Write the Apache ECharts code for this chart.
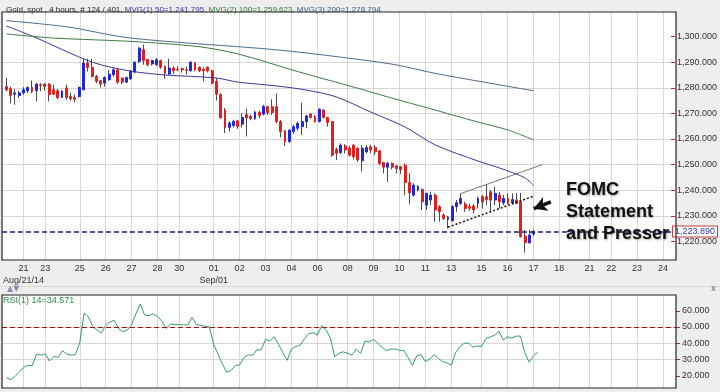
<!DOCTYPE html>
<html><head><meta charset="utf-8">
<script src="https://cdn.jsdelivr.net/npm/echarts@6/dist/echarts.min.js"></script>
<style>html,body{margin:0;padding:0;background:#eeeeee}#c{width:720px;height:392px}</style>
</head><body><div id="c"></div>
<script>
// ---- data (4h gold bars, index 1..124) ----
const barOpen = [1280.5,1279.6,1277.5,1277.0,1278.0,1278.8,1280.1,1278.9,1281.2,1281.4,1281.4,1279.2,1278.8,1276.2,1279.9,1276.6,1276.2,1276.6,1279.2,1289.6,1287.9,1284.4,1282.8,1281.8,1283.1,1285.1,1287.0,1283.8,1282.2,1283.5,1286.1,1290.3,1294.9,1291.0,1289.3,1289.0,1290.6,1288.3,1285.4,1287.7,1287.2,1287.5,1287.0,1286.6,1289.6,1288.0,1287.2,1288.0,1286.6,1282.5,1277.3,1271.4,1264.5,1265.3,1267.1,1265.8,1269.5,1268.8,1267.9,1270.5,1269.7,1272.6,1272.6,1272.6,1266.8,1263.2,1259.0,1262.9,1264.2,1264.8,1266.8,1269.7,1268.7,1266.8,1271.3,1268.4,1266.8,1256.0,1254.7,1257.3,1256.4,1257.6,1256.4,1251.5,1255.0,1257.0,1256.7,1255.4,1250.8,1249.0,1250.5,1249.5,1249.2,1249.8,1243.0,1238.1,1240.1,1240.3,1234.2,1236.2,1238.1,1233.6,1230.3,1228.7,1228.1,1233.6,1234.9,1234.6,1233.6,1233.9,1234.9,1237.5,1237.5,1239.4,1236.2,1238.1,1235.1,1236.8,1235.1,1236.2,1235.5,1222.1,1219.5,1222.9];
const barClose = [1279.2,1277.0,1278.0,1278.0,1279.2,1280.1,1278.6,1281.4,1280.9,1280.5,1277.3,1277.5,1276.2,1278.6,1276.2,1275.7,1275.5,1280.1,1289.6,1287.9,1284.4,1282.5,1281.4,1284.0,1285.3,1287.0,1282.2,1282.2,1284.0,1286.4,1290.0,1295.5,1290.6,1289.0,1290.6,1290.9,1288.0,1285.7,1287.7,1286.6,1287.0,1287.0,1286.8,1290.0,1287.0,1286.6,1286.6,1286.6,1281.8,1277.5,1268.2,1264.5,1266.2,1266.9,1264.9,1268.4,1268.2,1267.9,1270.5,1269.2,1272.7,1270.3,1270.3,1266.8,1262.9,1258.9,1263.5,1264.8,1266.1,1266.8,1269.0,1268.4,1266.8,1271.6,1268.4,1266.4,1253.7,1254.4,1257.6,1255.7,1253.7,1253.1,1251.8,1256.4,1256.7,1255.7,1255.0,1250.5,1249.0,1250.5,1249.0,1248.5,1248.0,1243.0,1239.0,1242.0,1241.4,1235.5,1238.8,1238.1,1232.3,1231.6,1229.0,1229.5,1233.6,1235.1,1236.8,1232.9,1233.0,1232.3,1236.8,1235.5,1236.4,1236.2,1238.8,1235.5,1236.8,1234.9,1236.4,1234.9,1221.9,1219.5,1222.5,1223.89];
const barLow = [1278.6,1274.0,1273.4,1276.0,1277.3,1277.9,1277.9,1274.7,1278.6,1278.9,1274.7,1277.3,1275.5,1276.0,1275.3,1275.0,1274.4,1276.2,1279.2,1286.4,1284.0,1281.8,1280.1,1280.5,1282.8,1284.4,1281.4,1281.4,1281.8,1283.1,1285.7,1289.6,1289.0,1288.3,1288.7,1288.3,1287.4,1283.5,1284.8,1285.4,1286.4,1285.9,1285.1,1286.4,1286.4,1286.1,1282.5,1286.0,1281.4,1275.0,1268.0,1262.3,1263.0,1264.5,1264.0,1264.5,1261.0,1267.3,1267.5,1268.2,1269.2,1269.4,1269.4,1266.1,1260.6,1257.3,1258.5,1262.0,1263.3,1261.6,1264.2,1268.0,1266.4,1266.4,1268.0,1264.8,1253.1,1251.8,1254.1,1254.4,1253.1,1252.0,1251.1,1247.3,1254.4,1254.4,1253.7,1249.8,1246.6,1243.3,1248.2,1246.6,1246.3,1238.1,1234.6,1237.5,1239.5,1232.3,1232.3,1234.2,1227.7,1227.7,1228.4,1225.1,1227.7,1231.6,1234.2,1231.6,1232.0,1231.0,1232.9,1232.9,1234.2,1231.6,1234.2,1232.9,1234.2,1234.6,1234.6,1234.6,1221.6,1215.6,1219.2,1222.1];
const barHigh = [1283.8,1280.5,1279.5,1278.8,1280.2,1280.5,1282.8,1281.8,1281.8,1281.8,1281.8,1281.2,1279.5,1279.2,1281.2,1278.0,1277.3,1280.5,1291.3,1291.3,1291.3,1285.1,1283.1,1284.4,1287.0,1287.7,1287.4,1284.0,1284.4,1287.0,1290.3,1295.8,1296.8,1291.3,1290.9,1291.6,1291.0,1288.7,1291.3,1288.3,1288.3,1287.9,1288.3,1290.3,1290.0,1288.3,1288.0,1288.3,1287.0,1283.8,1277.9,1272.1,1266.9,1267.5,1267.5,1270.1,1271.8,1269.5,1271.0,1271.0,1273.4,1273.0,1275.5,1277.8,1267.4,1263.5,1263.8,1265.5,1266.8,1274.2,1269.4,1270.2,1269.4,1272.0,1271.6,1268.7,1267.0,1256.7,1258.3,1258.0,1257.3,1258.0,1256.7,1257.6,1257.6,1257.6,1257.6,1255.7,1251.1,1251.1,1250.8,1249.8,1249.5,1250.5,1246.6,1242.7,1242.0,1240.7,1239.0,1239.4,1238.8,1234.2,1231.0,1230.0,1234.2,1236.2,1238.8,1235.5,1234.8,1234.6,1237.5,1238.1,1242.0,1240.1,1241.4,1239.4,1238.1,1238.8,1238.8,1238.8,1239.0,1224.5,1224.5,1224.7];
const rsiValues = [18.8,17.6,19.6,22.2,25.1,26.5,26.1,33.3,32.7,33.5,29.1,31.9,31.3,35.4,33.3,32.7,33.1,40.4,58.6,56.2,50.1,48.1,46.3,50.9,53.1,54.1,48.9,47.1,48.1,51.5,58.2,64.2,57.4,57.0,58.0,56.6,53.5,49.1,51.9,51.5,51.5,51.3,51.3,56.0,51.5,50.9,50.5,50.1,39.2,33.3,27.3,22.2,23.2,26.3,26.7,31.3,32.9,32.5,36.0,36.0,42.4,41.4,44.0,39.4,34.3,29.5,36.4,38.0,38.8,42.8,45.9,46.5,45.0,50.9,48.1,43.2,31.7,33.9,34.7,33.9,32.7,36.4,33.7,41.4,40.8,42.4,40.0,37.4,35.4,36.4,36.4,35.6,35.6,31.3,26.3,32.3,32.9,28.7,30.3,32.9,30.7,28.7,27.9,26.5,34.3,38.0,40.0,40.0,37.6,38.4,38.0,42.8,44.0,44.8,47.5,42.0,44.0,43.2,44.4,44.4,34.3,28.3,32.3,34.571];
// moving averages read at sampled bars: [bar index, value]
const mvg50 = [[1,1304.1],[7,1300.2],[21,1290.0],[30,1286.5],[38,1285.0],[50,1283.8],[55,1282.2],[64,1280.7],[71,1279.1],[78,1276.4],[86,1270.5],[94,1264.7],[101,1257.7],[111,1251.4],[116,1248.7],[122,1244.8],[124,1241.795]];
const mvg100 = [[1,1301.0],[12,1299.4],[31,1298.0],[46,1296.0],[55,1293.2],[69,1286.3],[83,1279.8],[90,1276.4],[101,1271.3],[111,1266.6],[118,1263.5],[124,1259.623]];
const mvg200 = [[1,1306.2],[15,1303.8],[30,1299.4],[64,1294.8],[83,1291.1],[92,1288.9],[101,1285.6],[111,1282.6],[124,1278.794]];
// annotation lines [bar index, price]
const supportLine = [[104,1225.6],[124,1237.7]];
const resistLine = [[107,1238.7],[126,1250.0]];
const arrowFromTo = [[128,1235.5],[124,1232.8]];
const lastPrice = 1223.89;
const lastRsi = 34.571;
// date axis
const slotCount = 157;
const tickIdx = [5,10,18,24,30,36,41,49,55,61,67,73,80,86,92,98,104,111,117,123,129,136,141,147,153];
const tickText = ['21','23','25','26','27','28','30','01','02','03','04','06','08','09','10','11','13','15','16','17','18','21','22','23','24'];
const monthIdx = [5,49];
const monthText = ['Aug/21/14','Sep/01'];
const priceTicks = [1220,1230,1240,1250,1260,1270,1280,1290,1300];
const rsiTicks = [20,30,40,50,60];

// ---- build ----
const cats = Array.from({length: slotCount}, (_, i) => String(i));
const labelMap = {};
tickIdx.forEach((ix, k) => { labelMap[ix] = tickText[k]; });
const monthMap = {};
monthIdx.forEach((ix, k) => { monthMap[ix] = monthText[k]; });
const isTick = (i) => labelMap[i] !== undefined;
const isMonth = (i) => monthMap[i] !== undefined;

const wickData = barOpen.map((o, k) => [k + 1, o, barClose[k], barLow[k], barHigh[k]]);
const bodyData = barOpen.map((o, k) => [k + 1, o, barClose[k], Math.min(o, barClose[k]), Math.max(o, barClose[k])]);
const rsiData = rsiValues.map((v, k) => [k + 1, v]);

function fmtPrice(v) {
  const th = Math.floor(v / 1000);
  const rest = (v - th * 1000).toFixed(3).padStart(7, '0');
  return th + ',' + rest;
}
const FONT = 'Liberation Sans, Arial, sans-serif';
const gridColor = '#d6d6d6';

const chart = echarts.init(document.getElementById('c'), null, {renderer: 'canvas'});
chart.setOption({
  backgroundColor: '#eeeeee',
  animation: false,
  textStyle: {fontFamily: FONT},
  title: {
    left: 1, top: 1,
    text: '{k|Gold, spot , 4 hours, # 124 / 401, }{a|MVG(1) 50=' + fmtPrice(mvg50[mvg50.length-1][1]) + ', }{b|MVG(2) 100=' + fmtPrice(mvg100[mvg100.length-1][1]) + ', }{c|MVG(3) 200=' + fmtPrice(mvg200[mvg200.length-1][1]) + '}',
    textStyle: {fontSize: 8, fontWeight: 'normal', fontFamily: FONT,
      rich: {k: {color: '#222', fontSize: 8}, a: {color: '#33339a', fontSize: 8}, b: {color: '#2f7a3a', fontSize: 8}, c: {color: '#35608a', fontSize: 8}}}
  },
  grid: [
    {left: 2, right: 44, top: 10.875, height: 256.25},
    {left: 2, right: 44, top: 294.5, height: 99},
    {left: 2, right: 44, top: 12, height: 248},
    {left: 2, right: 44, top: 295, height: 93}
  ],
  xAxis: [
    {type: 'category', gridIndex: 0, data: cats, boundaryGap: false, show: false},
    {type: 'category', gridIndex: 1, data: cats, boundaryGap: false, show: false},
    {type: 'category', gridIndex: 2, data: cats, boundaryGap: false, position: 'bottom',
      axisLine: {show: false}, axisTick: {show: false},
      axisLabel: {interval: (i) => isTick(i), formatter: (v, i) => labelMap[i] || '', margin: 4, fontSize: 9, color: '#333', fontFamily: FONT, hideOverlap: false},
      splitLine: {show: true, interval: (i) => isTick(i), lineStyle: {color: gridColor, width: 1}}},
    {type: 'category', gridIndex: 3, data: cats, boundaryGap: false,
      axisLine: {show: false}, axisTick: {show: false}, axisLabel: {show: false},
      splitLine: {show: true, interval: (i) => isTick(i), lineStyle: {color: gridColor, width: 1}}},
    {type: 'category', gridIndex: 2, data: cats, boundaryGap: false, position: 'bottom', offset: 0,
      axisLine: {show: false}, axisTick: {show: false}, splitLine: {show: false},
      axisLabel: {interval: (i) => isMonth(i), formatter: (v, i) => monthMap[i] || '', margin: 16, fontSize: 9, color: '#333', fontFamily: FONT}}
  ],
  yAxis: [
    {type: 'value', gridIndex: 0, position: 'right', min: 1210, max: 1310, interval: 10,
      axisLine: {show: false},
      axisTick: {show: true, length: 4, customValues: priceTicks, lineStyle: {color: '#a33'}},
      axisLabel: {showMinLabel: false, showMaxLabel: false, formatter: fmtPrice, fontSize: 9, color: '#333', margin: 6, fontFamily: FONT},
      splitLine: {show: true, showMinLine: false, showMaxLine: false, lineStyle: {color: gridColor}}},
    {type: 'value', gridIndex: 1, position: 'right', min: 10, max: 70, interval: 10,
      axisLine: {show: false},
      axisTick: {show: true, length: 4, customValues: rsiTicks, lineStyle: {color: '#a33'}},
      axisLabel: {showMinLabel: false, showMaxLabel: false, formatter: (v) => v.toFixed(3), fontSize: 9, color: '#333', margin: 6, fontFamily: FONT},
      splitLine: {show: true, showMinLine: false, showMaxLine: false, lineStyle: {color: gridColor}}},
    {type: 'value', gridIndex: 2, show: false, min: 0, max: 1},
    {type: 'value', gridIndex: 3, show: false, min: 0, max: 1}
  ],
  series: [
    {type: 'candlestick', name: 'wick', xAxisIndex: 0, yAxisIndex: 0, data: wickData, encode: {x: 0, y: [1, 2, 3, 4]},
      barWidth: 1, itemStyle: {color: '#4a4a4a', color0: '#4a4a4a', borderColor: '#4a4a4a', borderColor0: '#4a4a4a', borderWidth: 1}},
    {type: 'candlestick', name: 'body', xAxisIndex: 0, yAxisIndex: 0, data: bodyData, encode: {x: 0, y: [1, 2, 3, 4]},
      barWidth: 2.4, itemStyle: {color: '#1f2ad8', color0: '#e0201c', borderColor: '#1f2ad8', borderColor0: '#e0201c', borderWidth: 1}},
    {type: 'line', name: 'MVG(1) 50', xAxisIndex: 0, yAxisIndex: 0, data: mvg50, showSymbol: false, smooth: 0.3, lineStyle: {color: '#3a3a94', width: 1}},
    {type: 'line', name: 'MVG(2) 100', xAxisIndex: 0, yAxisIndex: 0, data: mvg100, showSymbol: false, smooth: 0.3, lineStyle: {color: '#3f7a44', width: 1}},
    {type: 'line', name: 'MVG(3) 200', xAxisIndex: 0, yAxisIndex: 0, data: mvg200, showSymbol: false, smooth: 0.3, lineStyle: {color: '#4b6c92', width: 1}},
    {type: 'line', name: 'support', xAxisIndex: 0, yAxisIndex: 0, data: supportLine, showSymbol: false, lineStyle: {color: '#111', width: 1.5, type: [2, 2]},
      markLine: {silent: true, symbol: 'none', animation: false,
        data: [{yAxis: lastPrice}],
        lineStyle: {type: [5, 3], color: '#1c1c6e', width: 1.5},
        label: {position: 'end', distance: 2, formatter: fmtPrice(lastPrice), fontSize: 9, color: '#2a3aa8', backgroundColor: '#fff', borderColor: '#cc3b3b', borderWidth: 1, padding: [1, 2, 0, 2], fontFamily: FONT}}},
    {type: 'line', name: 'resist', xAxisIndex: 0, yAxisIndex: 0, data: resistLine, showSymbol: false, lineStyle: {color: '#777', width: 1},
      markLine: {silent: true, animation: false, symbol: ['none', 'arrow'], symbolSize: [11, 13],
        data: [[{coord: arrowFromTo[0]}, {coord: arrowFromTo[1]}]],
        lineStyle: {color: '#111', width: 3.5, type: 'solid'}, label: {show: false}}},
    {type: 'line', name: 'RSI', xAxisIndex: 1, yAxisIndex: 1, data: rsiData, showSymbol: false, lineStyle: {color: '#3a9a6e', width: 1},
      markLine: {silent: true, symbol: 'none', animation: false,
        data: [
          {yAxis: 50, lineStyle: {type: [5, 3], color: '#8e1b1b', width: 1.2}, label: {show: false}},
          {yAxis: lastRsi, lineStyle: {opacity: 0}, label: {show: true, position: 'end', distance: 2, formatter: lastRsi.toFixed(3), fontSize: 9, color: '#2a3aa8', backgroundColor: '#fff', borderColor: '#cc3b3b', borderWidth: 1, padding: [1, 10, 0, 2], fontFamily: FONT}}
        ]}}
  ],
  graphic: [
    {type: 'rect', z: -5, shape: {x: 2, y: 12, width: 674, height: 248}, style: {fill: '#ffffff'}},
    {type: 'rect', z: -5, shape: {x: 2, y: 295, width: 674, height: 93}, style: {fill: '#ffffff'}},
    {type: 'rect', z: 50, shape: {x: 2, y: 12, width: 674, height: 248}, style: {fill: 'none', stroke: '#222', lineWidth: 1.2}},
    {type: 'rect', z: 50, shape: {x: 2, y: 295, width: 674, height: 93}, style: {fill: 'none', stroke: '#222', lineWidth: 1.2}},
    {type: 'line', z: 1, shape: {x1: 0, y1: 286.5, x2: 720, y2: 286.5}, style: {stroke: '#d8d8d8', lineWidth: 1}},
    {type: 'text', z: 60, left: 3, top: 296, style: {text: 'RSI(1) 14=' + lastRsi.toFixed(3), fill: '#2f8a4e', font: '9px ' + FONT}},
    {type: 'text', z: 60, left: 7, top: 285, style: {text: '▲▼', fill: '#8090b4', font: '8px DejaVu Sans'}},
    {type: 'text', z: 60, left: 711, top: 284, style: {text: 'x', fill: '#7b8ab0', font: 'bold 9px ' + FONT}},
    {type: 'text', z: 60, left: 566, top: 179, style: {text: 'FOMC\nStatement\nand Presser', fill: '#111', font: 'bold 18px Liberation Sans', lineHeight: 22,
      textShadowColor: 'rgba(0,0,0,0.35)', textShadowBlur: 2, textShadowOffsetX: 1, textShadowOffsetY: 1}}
  ]
});
</script>
</body></html>
